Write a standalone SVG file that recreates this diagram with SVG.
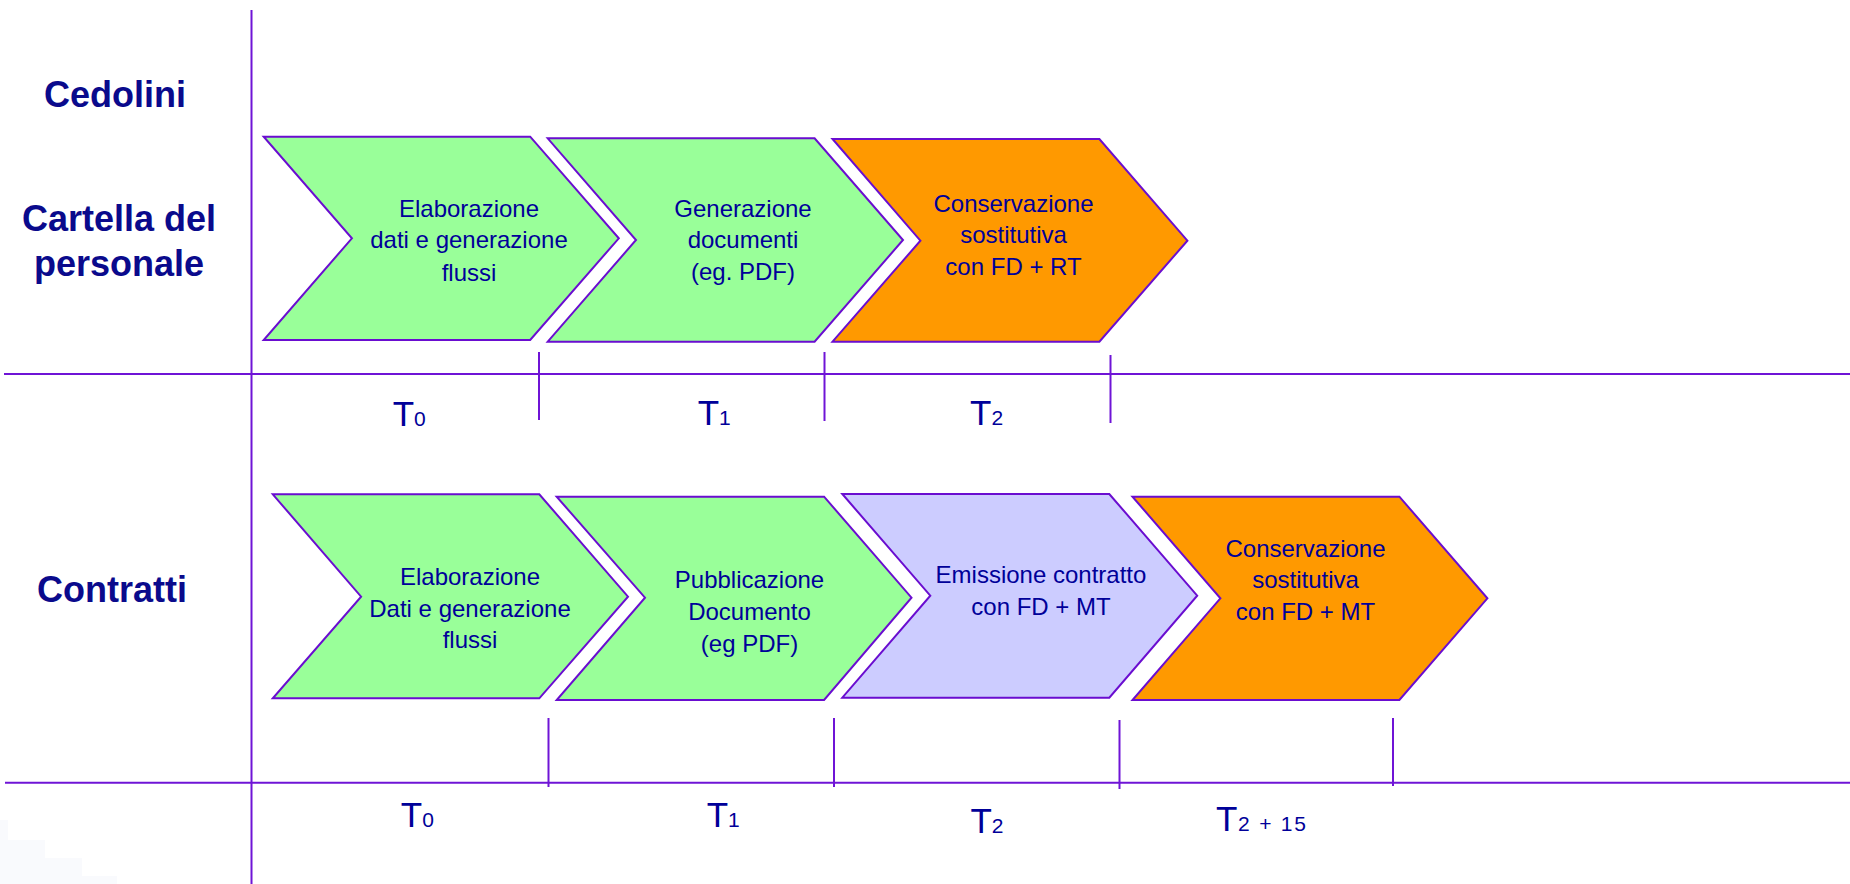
<svg xmlns="http://www.w3.org/2000/svg" width="1850" height="884" viewBox="0 0 1850 884">
<style>
.chev{stroke:#6A0DD0;stroke-width:2;stroke-linejoin:miter}
.green{fill:#99FF99}
.orange{fill:#FF9900}
.lav{fill:#CCCCFF}
.ln{stroke:#6F14D6;stroke-width:2;fill:none}
.lbl{font-family:"Liberation Sans",Arial,sans-serif;font-weight:bold;font-size:36px;fill:#0A0A8C;text-anchor:middle}
.ct{font-family:"Liberation Sans",Arial,sans-serif;font-size:24px;fill:#000099;text-anchor:middle}
.tt{font-family:"Liberation Sans",Arial,sans-serif;font-size:35px;fill:#000099}
.ts{font-size:21px}
</style>
<rect width="1850" height="884" fill="#FFFFFF"/>
<g id="haze" fill="#F9FAFD">
<rect x="0" y="820" width="8" height="64"/>
<rect x="0" y="840" width="45" height="44"/>
<rect x="0" y="858" width="82" height="26"/>
<rect x="0" y="876" width="117" height="8"/>
</g>
<g id="labels">
<text class="lbl" x="115" y="107">Cedolini</text>
<text class="lbl" x="119" y="231">Cartella del</text>
<text class="lbl" x="119" y="276">personale</text>
<text class="lbl" x="112" y="601.7">Contratti</text>
</g>
<g id="connectors">
<line class="ln" x1="251.5" y1="10" x2="251.5" y2="884"/>
<line class="ln" x1="4" y1="374" x2="1850" y2="374"/>
<line class="ln" x1="5" y1="782.7" x2="1850" y2="782.7"/>
<line class="ln" x1="539" y1="352" x2="539" y2="420"/>
<line class="ln" x1="824.5" y1="352" x2="824.5" y2="421"/>
<line class="ln" x1="1110.5" y1="355" x2="1110.5" y2="423"/>
<line class="ln" x1="548.5" y1="718" x2="548.5" y2="787"/>
<line class="ln" x1="834" y1="718" x2="834" y2="787"/>
<line class="ln" x1="1119.5" y1="720" x2="1119.5" y2="789"/>
<line class="ln" x1="1393" y1="718" x2="1393" y2="786"/>
</g>
<g id="c1">
<polygon class="chev green" points="263.7,136.7 530.2,136.7 618.8,238.3 530.2,340 263.7,340 351.9,238.3"/>
<text class="ct" x="469" y="216.7">Elaborazione</text>
<text class="ct" x="469" y="248.3">dati e generazione</text>
<text class="ct" x="469" y="280.7">flussi</text>
</g>
<g id="c2">
<polygon class="chev green" points="547.7,138.3 814.6,138.3 903,240 814.6,341.7 547.7,341.7 636,240"/>
<text class="ct" x="743" y="216.7">Generazione</text>
<text class="ct" x="743" y="248.3">documenti</text>
<text class="ct" x="743" y="280">(eg. PDF)</text>
</g>
<g id="c3">
<polygon class="chev orange" points="832.5,139 1099.4,139 1187.4,240.7 1099.4,341.7 832.5,341.7 920.4,240.7"/>
<text class="ct" x="1013.5" y="211.7">Conservazione</text>
<text class="ct" x="1013.5" y="243.3">sostitutiva</text>
<text class="ct" x="1013.5" y="275">con FD + RT</text>
</g>
<g id="c4">
<polygon class="chev green" points="272.8,494.3 539.3,494.3 628,596.7 539.3,698.3 272.8,698.3 361.1,596.7"/>
<text class="ct" x="470" y="585">Elaborazione</text>
<text class="ct" x="470" y="616.7">Dati e generazione</text>
<text class="ct" x="470" y="648.3">flussi</text>
</g>
<g id="c5">
<polygon class="chev green" points="556.7,496.7 824.1,496.7 911.5,597.7 824.1,700 556.7,700 645,597.7"/>
<text class="ct" x="749.5" y="588.3">Pubblicazione</text>
<text class="ct" x="749.5" y="620">Documento</text>
<text class="ct" x="749.5" y="651.7">(eg PDF)</text>
</g>
<g id="c6">
<polygon class="chev lav" points="842.3,494 1109.3,494 1197.2,595.7 1109.3,697.7 842.3,697.7 930.3,595.7"/>
<text class="ct" x="1041" y="583.3">Emissione contratto</text>
<text class="ct" x="1041" y="615">con FD + MT</text>
</g>
<g id="c7">
<polygon class="chev orange" points="1132.5,496.7 1399.4,496.7 1487.4,598.3 1399.4,700 1132.5,700 1220.4,598.3"/>
<text class="ct" x="1305.5" y="556.7">Conservazione</text>
<text class="ct" x="1305.5" y="588.3">sostitutiva</text>
<text class="ct" x="1305.5" y="620">con FD + MT</text>
</g>
<g id="times">
<text class="tt" x="392.7" y="426">T<tspan class="ts">0</tspan></text>
<text class="tt" x="697.7" y="425">T<tspan class="ts">1</tspan></text>
<text class="tt" x="970" y="424.5">T<tspan class="ts">2</tspan></text>
<text class="tt" x="400.8" y="827.3">T<tspan class="ts">0</tspan></text>
<text class="tt" x="706.7" y="827.3">T<tspan class="ts">1</tspan></text>
<text class="tt" x="970.4" y="832.7">T<tspan class="ts">2</tspan></text>
<text class="tt" x="1216" y="830.7">T</text>
<text class="tt ts" x="1238" y="830.7" textLength="68" lengthAdjust="spacing">2 + 15</text>
</g>
</svg>
